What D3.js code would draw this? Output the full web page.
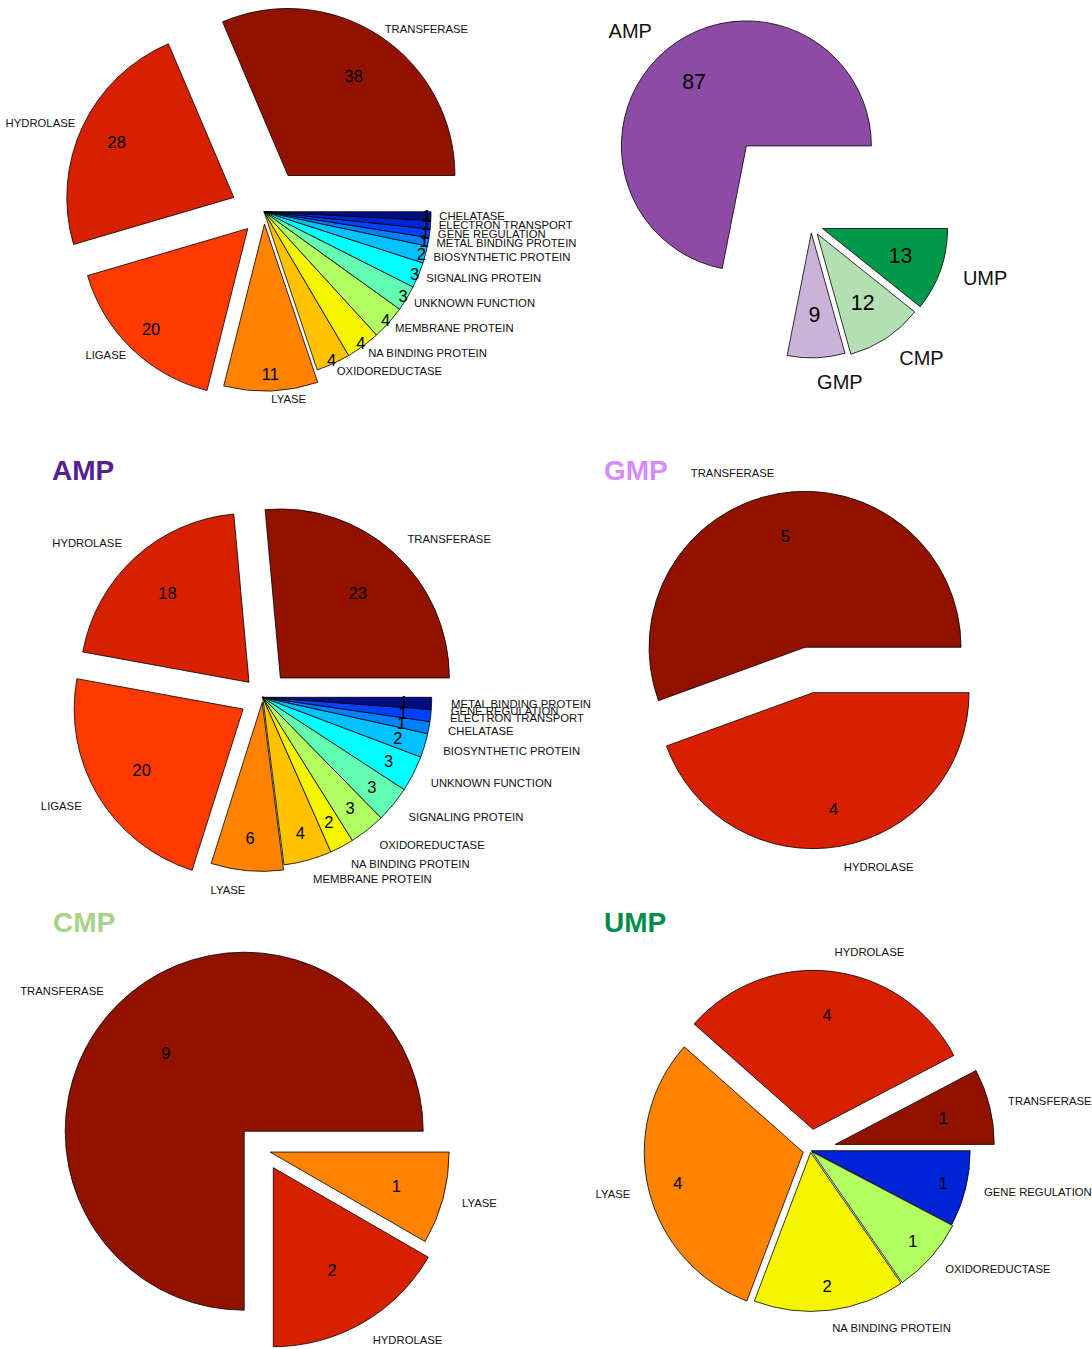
<!DOCTYPE html>
<html><head><meta charset="utf-8">
<script src="https://cdn.jsdelivr.net/npm/d3@7"></script>
<style>
body{margin:0;background:#fff}
svg{display:block}
text{font-family:"Liberation Sans",Arial,Helvetica,sans-serif}
</style>
</head><body>
<svg id="chart" width="1092" height="1349"></svg>
<script>
// ---------------- DATA ----------------
const totalCategories = ["TRANSFERASE","HYDROLASE","LIGASE","LYASE","OXIDOREDUCTASE","NA BINDING PROTEIN","MEMBRANE PROTEIN","UNKNOWN FUNCTION","SIGNALING PROTEIN","BIOSYNTHETIC PROTEIN","METAL BINDING PROTEIN","GENE REGULATION","ELECTRON TRANSPORT","CHELATASE"];
const totalValues = [38,28,20,11,4,4,4,3,3,2,1,1,1,1];

const nucleotides = ["AMP","GMP","CMP","UMP"];
const nucleotideCounts = [87,9,12,13];

const subCategories = ["TRANSFERASE","HYDROLASE","LIGASE","LYASE","MEMBRANE PROTEIN","NA BINDING PROTEIN","OXIDOREDUCTASE","SIGNALING PROTEIN","UNKNOWN FUNCTION","BIOSYNTHETIC PROTEIN","CHELATASE","ELECTRON TRANSPORT","GENE REGULATION","METAL BINDING PROTEIN"];
const ampValues = [23,18,20,6,4,2,3,3,3,2,1,1,0,1];
const gmpValues = [5,4,0,0,0,0,0,0,0,0,0,0,0,0];
const cmpValues = [9,2,0,1,0,0,0,0,0,0,0,0,0,0];
const umpValues = [1,4,0,4,0,2,1,0,0,0,0,0,1,0];

// ---------------- STYLE ----------------
const classColors = ["#921200","#D62000","#FF3A00","#FF8200","#FFC200","#F5F500","#B2FF62","#62FFB2","#00FFFF","#00C2FF","#0082FF","#0042FF","#0024D6","#000E80"];
const nucColors = ["#8E4BA5","#CBB2D8","#B3DFB2","#00994A"];
const titleColors = {AMP:"#54218F", GMP:"#D58CF8", CMP:"#A8D18A", UMP:"#008C4C"};

const charts = [
  {cats: totalCategories, vals: totalValues, colors: classColors,
   cx: 264, cy: 211.7, r: 167,
   explode: [0.26,0.2,0.14,0.074,0,0,0,0,0,0,0,0,0,0],
   labelDist: 1.05, labelDy: 0, valueDist: 0.975, valueFromCenter: true, labelSize: 11.3, valueSize: 16.5},
  {cats: nucleotides, vals: nucleotideCounts, colors: nucColors,
   cx: 811, cy: 224.5, r: 125,
   explode: [0.814,0.067,0.09,0.098],
   labelDist: 1.19, labelDy: 0, valueDist: 0.66, valueFromCenter: false, labelSize: 20, valueSize: 21.3},
  {title: "AMP", tx: 52, ty: 480, cats: subCategories, vals: ampValues, colors: classColors,
   cx: 262.7, cy: 697.3, r: 169,
   explode: [0.155,0.12,0.135,0.03,0,0,0,0,0,0,0,0,0,0],
   labelDist: 1.115, labelDy: 0, valueDist: 0.835, valueFromCenter: true, labelZeros: true, labelSize: 11.3, valueSize: 16.5},
  {title: "GMP", tx: 604, ty: 480, cats: subCategories, vals: gmpValues, colors: classColors,
   cx: 809.5, cy: 672.5, r: 156,
   explode: [0.164,0.131,0,0,0,0,0,0,0,0,0,0,0,0],
   labelDist: 1.135, labelDy: 0, valueDist: 0.89, valueFromCenter: true, labelSize: 11.3, valueSize: 16.5},
  {title: "CMP", tx: 53, ty: 932, cats: subCategories, vals: cmpValues, colors: classColors,
   cx: 263.2, cy: 1150.2, r: 179,
   explode: [0.15,0.113,0,0.04,0,0,0,0,0,0,0,0,0,0],
   labelDist: 1.11, labelDy: 0, valueDist: 0.77, valueFromCenter: true, labelSize: 11.3, valueSize: 16.5},
  {title: "UMP", tx: 604, ty: 932, cats: subCategories, vals: umpValues, colors: classColors,
   cx: 810.5, cy: 1150.5, r: 159,
   explode: [0.16,0.134,0,0.047,0,0.012,0.012,0,0,0,0,0,0.004,0],
   labelDist: 1.12, labelDy: -1, valueDist: 0.86, valueFromCenter: true, labelSize: 11.3, valueSize: 16.5}
];

// ---------------- DRAW ----------------
const svg = d3.select("#chart");

charts.forEach(ch => {
  const g = svg.append("g");
  const rad = d3.scaleLinear().domain([0, 1]).range([0, ch.r]);
  const items = ch.cats.map((c, i) => ({cat: c, val: ch.vals[i], idx: i}));
  const pie = d3.pie().sort(null).value(d => d.val)
      .startAngle(Math.PI / 2).endAngle(Math.PI / 2 - 2 * Math.PI);
  const arcs = pie(items);
  const arc = d3.arc().innerRadius(0).outerRadius(ch.r);

  const geom = a => {
    const m = (a.startAngle + a.endAngle) / 2;
    const ux = Math.sin(m), uy = -Math.cos(m);
    const e = rad(ch.explode[a.data.idx] || 0);
    return {ux, uy, ex: ch.cx + ux * e, ey: ch.cy + uy * e};
  };

  arcs.forEach(a => {
    if (a.data.val <= 0) return;
    const q = geom(a);
    g.append("path")
      .attr("d", arc(a))
      .attr("transform", `translate(${q.ex},${q.ey})`)
      .attr("fill", ch.colors[a.data.idx])
      .attr("stroke", "#000")
      .attr("stroke-width", 0.8);
  });

  // category labels
  arcs.forEach(a => {
    if (a.data.val <= 0 && !ch.labelZeros) return;
    const q = geom(a);
    const lx = q.ex + q.ux * rad(ch.labelDist), ly = q.ey + q.uy * rad(ch.labelDist) + ch.labelDy;
    g.append("text")
      .attr("x", lx).attr("y", ly)
      .attr("text-anchor", lx > ch.cx ? "start" : "end")
      .attr("dominant-baseline", "central")
      .attr("font-size", ch.labelSize)
      .attr("fill", "#111")
      .text(a.data.cat);
  });

  // value labels
  arcs.forEach(a => {
    if (a.data.val <= 0) return;
    const q = geom(a);
    const bx = ch.valueFromCenter ? ch.cx : q.ex, by = ch.valueFromCenter ? ch.cy : q.ey;
    g.append("text")
      .attr("x", bx + q.ux * rad(ch.valueDist))
      .attr("y", by + q.uy * rad(ch.valueDist))
      .attr("text-anchor", "middle")
      .attr("dominant-baseline", "central")
      .attr("font-size", ch.valueSize)
      .attr("fill", "#000")
      .text(a.data.val);
  });

  if (ch.title) {
    g.append("text")
      .attr("x", ch.tx).attr("y", ch.ty)
      .attr("font-size", 28).attr("font-weight", "bold")
      .attr("fill", titleColors[ch.title])
      .text(ch.title);
  }
});
</script>
</body></html>
